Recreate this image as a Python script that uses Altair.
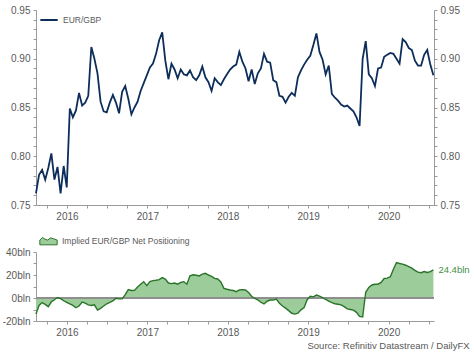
import altair as alt
import pandas as pd

# EUR/GBP, fortnightly readings starting 2016-02-12
eurgbp = [
    0.762, 0.781, 0.786, 0.776, 0.788, 0.803, 0.776, 0.789, 0.762, 0.790,
    0.768, 0.849, 0.840, 0.847, 0.865, 0.852, 0.855, 0.862, 0.912, 0.900,
    0.885, 0.856, 0.846, 0.845, 0.855, 0.863, 0.855, 0.844, 0.866, 0.872,
    0.859, 0.843, 0.850, 0.856, 0.867, 0.875, 0.883, 0.891, 0.895, 0.905,
    0.919, 0.927, 0.898, 0.879, 0.895, 0.889, 0.880, 0.889, 0.884, 0.883,
    0.888, 0.881, 0.878, 0.883, 0.892, 0.881, 0.876, 0.867, 0.880, 0.876,
    0.873, 0.879, 0.884, 0.889, 0.892, 0.894, 0.907, 0.897, 0.890, 0.877,
    0.889, 0.874, 0.885, 0.890, 0.905, 0.897, 0.896, 0.878, 0.876, 0.862,
    0.861, 0.855, 0.861, 0.865, 0.862, 0.881, 0.888, 0.894, 0.899, 0.903,
    0.914, 0.926, 0.907, 0.899, 0.884, 0.893, 0.864, 0.860, 0.857, 0.853,
    0.851, 0.852, 0.849, 0.846, 0.840, 0.831, 0.900, 0.918, 0.884, 0.880,
    0.872, 0.890, 0.891, 0.902, 0.904, 0.906, 0.905, 0.900, 0.895, 0.920,
    0.917, 0.911, 0.909, 0.898, 0.893, 0.893, 0.904, 0.909, 0.894, 0.883,
]

# Implied EUR/GBP net positioning (bln), same dates
positioning = [
    -14.0, -6.5, -4.0, -5.5, -7.5, -3.3, -1.5, 0.4, -0.5, -2.4,
    -3.8, -5.2, -6.5, -8.5, -7.0, -3.5, -4.5, -6.0, -6.5, -6.0,
    -10.5, -9.0, -7.0, -5.0, -3.8, -2.5, -0.2, -0.8, -0.8, 3.0,
    7.3, 6.5, 6.6, 9.5, 12.0, 14.2, 10.8, 14.3, 15.1, 15.4,
    16.0, 17.7, 16.5, 13.0, 12.5, 13.0, 12.0, 13.5, 14.2, 12.0,
    19.3, 20.2, 19.8, 19.2, 20.8, 21.5, 20.0, 18.8, 17.0, 16.5,
    14.0, 8.4, 7.6, 7.0, 6.5, 5.5, 7.0, 7.3, 7.0, 4.8,
    1.5, -0.4, -1.6, -3.7, -5.2, -2.8, -1.8, -1.8, -0.9, -4.5,
    -7.0, -8.8, -11.0, -13.3, -14.0, -13.2, -10.3, -8.4, -1.5, 1.5,
    1.0, 2.5, 1.6, 0.4, -1.3, -2.7, -4.0, -5.0, -5.4, -6.0,
    -7.5, -9.5, -10.0, -10.5, -12.5, -16.0, -16.5, 5.0, 9.2, 11.3,
    12.0, 12.0, 13.5, 17.0, 17.3, 18.5, 25.0, 30.7, 30.0, 29.5,
    28.5, 27.3, 26.0, 24.0, 22.5, 22.0, 23.0, 22.2, 23.0, 24.4,
]

start_date = "2016-02-12"
series_top = "EUR/GBP"
series_bottom = "Implied EUR/GBP Net Positioning"
source_text = "Source: Refinitiv Datastream / DailyFX"

dts = pd.date_range(start_date, periods=len(eurgbp), freq="14D")
# decimal year position of each fortnightly observation
t = [d.year + (d.dayofyear - 1) / (366 if d.is_leap_year else 365) for d in dts]

df = pd.DataFrame({
    "t": t,
    "eurgbp": eurgbp,
    "pos": positioning,
    "s1": series_top,
    "s2": series_bottom,
})

NAVY = "#0d2d5b"
FILL = "#9ccc9a"
DKGREEN = "#2a742a"
LBLGREEN = "#3f8f3f"
AXIS = "#9a9a9a"
TXT = "#595959"
FONT = "Liberation Sans"

W, H_TOP, H_BOT = 398, 195, 69

# quarterly ticks, year labels at mid-year
quarter_ticks = [y + q / 4 for y in range(2016, 2022) for q in range(4)]
quarter_ticks = [q for q in quarter_ticks if 2016.2 <= q <= 2021.01]
xscale = alt.Scale(domain=[2016.115, 2021.065], nice=False, zero=False)
xlabel_expr = "abs(datum.value - floor(datum.value) - 0.5) < 0.01 ? '' + floor(datum.value) : ''"


def xaxis():
    return alt.Axis(values=quarter_ticks, labelExpr=xlabel_expr, title=None, grid=False,
                    tickSize=3, labelOverlap=False, labelPadding=3, labelFlush=False)


yvals_top = [round(0.75 + 0.01 * i, 2) for i in range(21)]
ylabel_top = "abs(datum.value * 20 - round(datum.value * 20)) < 0.001 ? format(datum.value, '.2f') : ''"
yscale_top = alt.Scale(domain=[0.75, 0.95], zero=False, nice=False)


def yaxis_top(orient):
    return alt.Axis(values=yvals_top, labelExpr=ylabel_top, orient=orient, title=None,
                    grid=False, tickSize=3, labelOverlap=False, labelPadding=3)


line_top = alt.Chart(df).mark_line(strokeWidth=1.8).encode(
    x=alt.X("t:Q", scale=xscale, axis=xaxis()),
    y=alt.Y("eurgbp:Q", scale=yscale_top, axis=yaxis_top("left")),
    color=alt.Color("s1:N", scale=alt.Scale(range=[NAVY]),
                    legend=alt.Legend(title=None, orient="none", legendX=3, legendY=0,
                                      symbolType="stroke", symbolSize=300, symbolStrokeWidth=2,
                                      labelFontSize=8.5, labelColor=TXT, labelFont=FONT,
                                      padding=0, labelOffset=4)),
)
right_top = alt.Chart(df).mark_line(opacity=0).encode(
    x=alt.X("t:Q", scale=xscale, axis=xaxis()),
    y=alt.Y("eurgbp:Q", scale=yscale_top, axis=yaxis_top("right")),
)
top = alt.layer(line_top, right_top).resolve_scale(y="independent").properties(width=W, height=H_TOP)

yscale_bot = alt.Scale(domain=[-20, 40], nice=False, zero=False)
yvals_bot = [-20, -10, 0, 10, 20, 30, 40]


def yaxis_bot():
    return alt.Axis(values=yvals_bot, labelExpr="datum.value % 20 == 0 ? datum.value + 'bln' : ''",
                    title=None, grid=False, tickSize=3, labelOverlap=False, labelPadding=3)


area_path = "M -1 0.5 L -1 -0.05 L -0.7 -0.35 L -0.4 -0.15 L -0.1 -0.05 L 0.25 -0.3 L 0.6 -0.2 L 1 -0.05 L 1 0.5 Z"

area = alt.Chart(df).mark_area(opacity=1).encode(
    x=alt.X("t:Q", scale=xscale, axis=xaxis()),
    y=alt.Y("pos:Q", scale=yscale_bot, axis=yaxis_bot()),
    y2=alt.datum(0),
    fill=alt.Fill("s2:N", scale=alt.Scale(range=[FILL]),
                  legend=alt.Legend(title=None, orient="none", legendX=3, legendY=-21,
                                    symbolType=area_path, symbolSize=300,
                                    symbolStrokeColor=DKGREEN, symbolStrokeWidth=1,
                                    labelFontSize=8.5, labelColor=TXT, labelFont=FONT,
                                    padding=0, labelOffset=4)),
)
zero = alt.Chart(df).mark_rule(color="#8f8f8f", strokeWidth=1.5).encode(
    y=alt.datum(0, scale=yscale_bot, axis=yaxis_bot()))
line_bot = alt.Chart(df).mark_line(color=DKGREEN, strokeWidth=1.4).encode(
    x=alt.X("t:Q", scale=xscale, axis=xaxis()),
    y=alt.Y("pos:Q", scale=yscale_bot, axis=yaxis_bot()),
)
last_label = alt.Chart(df.tail(1)).transform_calculate(
    lbl="format(datum.pos, '.1f') + 'bln'"
).mark_text(align="left", baseline="middle", dx=5, fontSize=9.5, color=LBLGREEN, font=FONT).encode(
    x=alt.X("t:Q", scale=xscale, axis=xaxis()),
    y=alt.Y("pos:Q", scale=yscale_bot, axis=yaxis_bot()),
    text="lbl:N",
)
bottom = alt.layer(area, zero, line_bot, last_label).properties(width=W, height=H_BOT)

chart = alt.vconcat(top, bottom, spacing=10).resolve_legend(
    color="independent", fill="independent"
).properties(
    title=alt.TitleParams(source_text, orient="bottom", anchor="end", fontSize=9.5,
                          fontWeight="normal", color=TXT, font=FONT, offset=4),
    padding={"left": 2, "top": 5, "right": 4, "bottom": 0},
).configure_view(stroke=None).configure_axis(
    labelFont=FONT, labelFontSize=10, labelColor=TXT, domainColor=AXIS, tickColor=AXIS,
    domainWidth=1,
)

chart.save("out.html", embed_options={"renderer": "svg", "actions": False})
